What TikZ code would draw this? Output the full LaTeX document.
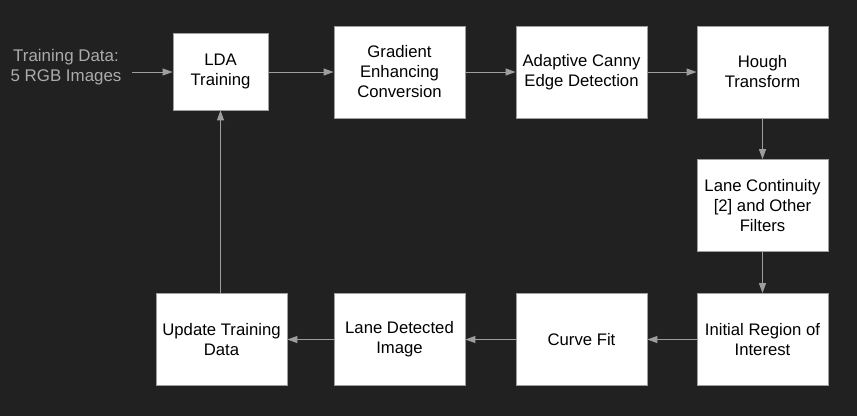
\documentclass[tikz,border=0pt]{standalone}
\usepackage{fontspec}
\setmainfont{Liberation Sans}
\usetikzlibrary{arrows.meta}
\definecolor{bg}{HTML}{212121}
\definecolor{ln}{HTML}{9E9E9E}
\definecolor{intext}{HTML}{ABABAB}
\tikzset{
  blk/.style={draw=ln, line width=0.8pt, fill=white, minimum width=131pt, minimum height=92pt,
    inner sep=0pt, align=center, font=\fontsize{16.7}{20}\selectfont, text=black},
  conn/.style={draw=ln, line width=1pt, -{Triangle[length=10pt,width=7pt]}}
}
\begin{document}
\begin{tikzpicture}[x=1pt,y=-1pt]
\fill[bg] (0,0) rectangle (857,416);
\useasboundingbox (0,0) rectangle (857,416);
\node[blk, minimum width=95pt, minimum height=77pt] (lda) at (220.5,71.5) {LDA\\Training};
\node[blk] (grad) at (399.5,72) {Gradient\\Enhancing\\Conversion};
\node[blk] (canny) at (581.5,72) {Adaptive Canny\\Edge Detection};
\node[blk] (hough) at (762.5,72) {Hough\\Transform};
\node[blk] (cont) at (762.5,205.5) {Lane Continuity\\{[2]} and Other\\Filters};
\node[blk] (roi) at (762.5,339.5) {Initial Region of\\Interest};
\node[blk] (curve) at (581.5,339.5) {Curve Fit};
\node[blk] (lane) at (399.5,339.5) {Lane Detected\\Image};
\node[blk] (upd) at (221.5,339.5) {Update Training\\Data};
\node[align=center, text=intext, font=\fontsize{16.9}{20}\selectfont, inner sep=0pt] (input) at (66,67.5) {Training Data:\\5 RGB Images};
\coordinate (instart) at (132,72);
\draw[conn] (instart) -- (lda.west |- instart);
\draw[conn] (lda.east |- grad.west) -- (grad.west);
\draw[conn] (grad) -- (canny);
\draw[conn] (canny) -- (hough);
\draw[conn] (hough) -- (cont);
\draw[conn] (cont) -- (roi);
\draw[conn] (roi) -- (curve);
\draw[conn] (curve) -- (lane);
\draw[conn] (lane) -- (upd);
\draw[conn] (upd.north -| lda.south) -- (lda.south);
\end{tikzpicture}
\end{document}
